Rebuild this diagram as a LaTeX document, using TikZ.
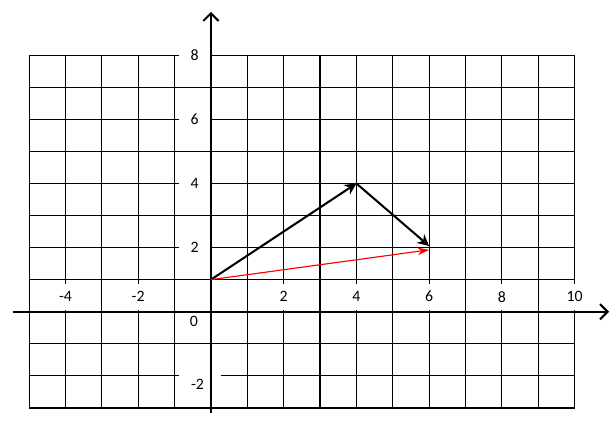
\documentclass[tikz,border=0pt]{standalone}
\usepackage{fontspec}
\setmainfont{Carlito}
\usepackage{tikz}
\usetikzlibrary{arrows.meta}

\begin{document}
\begin{tikzpicture}[x=0.5cm,y=0.441cm]
\tikzstyle{every node}+=[inner sep=0pt,font=\fontsize{6.2}{7}\selectfont]
\tikzstyle{gridline}=[black,line width=0.45pt]
\tikzstyle{axis}=[black,line width=0.9pt,-{Straight Barb[length=3pt,width=6pt,line width=0.8pt]}]
\tikzstyle{xlab}=[fill=white,minimum width=0.3cm,minimum height=0.36cm]
\tikzstyle{ylab}=[fill=white,minimum width=0.44cm,minimum height=0.3cm]
\tikzstyle{vec}=[black,line width=0.8pt,-{Stealth[length=4.5pt,width=4.5pt]}]
\useasboundingbox (-5.8,-3.77) rectangle (11.14,9.72);
% grid
\foreach \x in {-5,...,10}
  \draw [gridline] (\x,-3) -- (\x,8);
\foreach \y in {-3,...,8}
  \draw [gridline] (-5,\y) -- (10,\y);
% labels
\foreach \x in {-4,-2,2,4,6,8,10}
  \node [xlab] (x\x) at (\x,0.47) {\x};
\foreach \y in {2,4,6,8}
  \node [ylab] (y\y) at (-0.45,\y) {\y};
\node [ylab,minimum width=0.58cm] (ym2) at (-0.3,-2.25) {};
\node (ym2t) at (-0.37,-2.25) {-2};
\node (zero) at (-0.47,-0.3) {0};
% axes
\coordinate (xs) at (-5.45,0);
\coordinate (xe) at (10.95,0);
\coordinate (ys) at (0,-3.15);
\coordinate (ye) at (0,9.35);
\draw [axis] (xs) -- (xe);
\draw [axis] (ys) -- (ye);
% vectors
\coordinate (P) at (0,1);
\coordinate (Q) at (4,4);
\coordinate (S) at (6,2.05);
\coordinate (T) at (6,1.93);
\draw [vec] (P) -- (Q);
\draw [vec] (Q) -- (S);
\draw [red,line width=0.45pt,-{Stealth[length=4.5pt,width=3pt]}] (P) -- (T);
\end{tikzpicture}
\end{document}
